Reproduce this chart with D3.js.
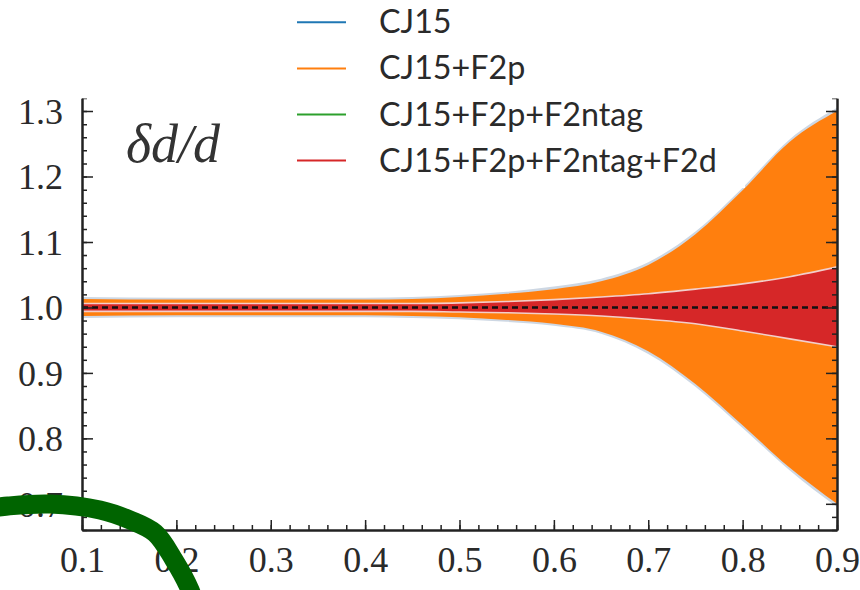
<!DOCTYPE html>
<html><head><meta charset="utf-8">
<script src="https://cdn.jsdelivr.net/npm/d3@7"></script>
<style>html,body{margin:0;padding:0;background:#fff;}svg{display:block;}</style>
</head><body>
<svg id="chart" width="860" height="590"></svg>
<script>
// ---- data ----
const xValues   = [0.1, 0.2, 0.3, 0.4, 0.45, 0.5, 0.55, 0.6, 0.65, 0.7, 0.75, 0.8, 0.85, 0.9];
const cj15Upper = [1.016,1.015,1.015,1.015,1.016,1.019,1.024,1.032,1.044,1.069,1.116,1.183,1.257,1.305];
const cj15Lower = [0.984,0.985,0.985,0.985,0.984,0.982,0.978,0.972,0.960,0.929,0.879,0.816,0.751,0.695];
const f2pUpper  = [1.013,1.012,1.012,1.012,1.013,1.016,1.021,1.028,1.040,1.065,1.112,1.179,1.253,1.300];
const f2pLower  = [0.987,0.988,0.988,0.988,0.987,0.985,0.981,0.975,0.963,0.933,0.883,0.820,0.755,0.700];
const ntagUpper = [1.006,1.006,1.006,1.006,1.006,1.007,1.009,1.012,1.016,1.021,1.028,1.036,1.047,1.062];
const ntagLower = [0.994,0.994,0.994,0.994,0.994,0.993,0.992,0.990,0.987,0.982,0.975,0.964,0.952,0.940];
const f2dUpper  = [1.006,1.006,1.006,1.006,1.006,1.007,1.009,1.012,1.016,1.021,1.028,1.036,1.047,1.062];
const f2dLower  = [0.994,0.994,0.994,0.994,0.994,0.993,0.992,0.990,0.987,0.982,0.975,0.964,0.952,0.940];
const seriesNames = ["CJ15", "CJ15+F2p", "CJ15+F2p+F2ntag", "CJ15+F2p+F2ntag+F2d"];
const xTickValues = [0.1, 0.2, 0.3, 0.4, 0.5, 0.6, 0.7, 0.8, 0.9];
const yTickValues = [0.7, 0.8, 0.9, 1.0, 1.1, 1.2, 1.3];
const yLabelText = "δd/d";

(function () {
// ---- layout ----
const svg = d3.select("#chart");
const mL = 82, mR = 837, mT = 98, mB = 530;
const x = d3.scaleLinear().domain([0.1, 0.9]).range([mL, mR]);
const y = d3.scaleLinear().domain([0.66, 1.32]).range([mB, mT]);

const defs = svg.append("defs");
defs.append("clipPath").attr("id", "crop").append("rect")
  .attr("x", 0).attr("y", 98.5).attr("width", 860).attr("height", 500);
defs.append("clipPath").attr("id", "plot").append("rect")
  .attr("x", mL).attr("y", mT).attr("width", mR - mL).attr("height", mB - mT);

const g = svg.append("g").attr("clip-path", "url(#crop)");
const pg = g.append("g").attr("clip-path", "url(#plot)");

function band(up, lo) {
  return xValues.map((v, i) => ({x: v, u: up[i], l: lo[i]}));
}
const curve = d3.curveMonotoneX;
const area = d3.area().x(d => x(d.x)).y0(d => y(d.l)).y1(d => y(d.u)).curve(curve);
const lineU = d3.line().x(d => x(d.x)).y(d => y(d.u)).curve(curve);
const lineL = d3.line().x(d => x(d.x)).y(d => y(d.l)).curve(curve);

const bands = [
  {d: band(cj15Upper, cj15Lower), fill: "#cdd7e3", edge: null},
  {d: band(f2pUpper, f2pLower), fill: "#ff7f0e", edge: null},
  {d: band(ntagUpper, ntagLower), fill: "#2ca02c", edge: null},
  {d: band(f2dUpper, f2dLower), fill: "#d62728", edge: "#f3cfcb"}
];
bands.forEach(b => {
  pg.append("path").datum(b.d).attr("d", area).attr("fill", b.fill);
  if (b.edge) {
    pg.append("path").datum(b.d).attr("d", lineU).attr("fill", "none").attr("stroke", b.edge).attr("stroke-width", 1.6);
    pg.append("path").datum(b.d).attr("d", lineL).attr("fill", "none").attr("stroke", b.edge).attr("stroke-width", 1.6);
  }
});

// dashed reference line at 1.0
pg.append("line").attr("x1", mL).attr("x2", mR).attr("y1", y(1)).attr("y2", y(1))
  .attr("stroke", "#111").attr("stroke-width", 2.4).attr("stroke-dasharray", "6,4");

// ---- axes ----
const minorX = d3.range(0.1, 0.9001, 0.02);
const minorY = d3.range(0.66, 1.3201, 0.02);
const axB = d3.axisBottom(x).tickValues(xTickValues).tickFormat(d3.format(".1f")).tickSizeInner(-10).tickSizeOuter(0).tickPadding(16);
const axL = d3.axisLeft(y).tickValues(yTickValues).tickFormat(d3.format(".1f")).tickSizeInner(-11).tickSizeOuter(0).tickPadding(19);
const axR = d3.axisRight(y).tickValues(yTickValues).tickFormat("").tickSizeInner(-11).tickSizeOuter(0);

const gB = g.append("g").attr("transform", `translate(0,${mB})`).call(axB);
const gL = g.append("g").attr("transform", `translate(${mL},0)`).call(axL);
const gR = g.append("g").attr("transform", `translate(${mR},0)`).call(axR);

// minor ticks
g.append("g").attr("transform", `translate(0,${mB})`)
  .call(d3.axisBottom(x).tickValues(minorX).tickFormat("").tickSizeInner(-5).tickSizeOuter(0));
g.append("g").attr("transform", `translate(${mL},0)`)
  .call(d3.axisLeft(y).tickValues(minorY).tickFormat("").tickSizeInner(-5).tickSizeOuter(0));
g.append("g").attr("transform", `translate(${mR},0)`)
  .call(d3.axisRight(y).tickValues(minorY).tickFormat("").tickSizeInner(-5).tickSizeOuter(0));

g.selectAll(".domain").attr("stroke", "#222").attr("stroke-width", 2);
g.selectAll(".tick line").attr("stroke", "#222").attr("stroke-width", 1.5);
g.selectAll(".tick text").attr("font-family", "'Liberation Serif', serif").attr("font-size", 36)
  .attr("fill", "#2a2a2a");
gL.selectAll(".tick text").attr("dy", "0.34em");
gB.selectAll(".tick text").attr("dy", "0.72em");

// panel label
g.append("text").attr("x", 126).attr("y", 162)
  .attr("font-family", "'Liberation Serif', serif").attr("font-style", "italic")
  .attr("font-size", 54).attr("fill", "#333").text(yLabelText);

// ---- legend ----
svg.append("rect").attr("x", 280).attr("y", 0).attr("width", 465).attr("height", 188).attr("fill", "#fff");
const legColors = ["#1f77b4", "#ff7f0e", "#2ca02c", "#d62728"];
const lg = svg.append("g");
const rows = seriesNames.map((name, i) => {
  const cy = 22.3 + i * 46.1;
  lg.append("line").attr("x1", 297).attr("x2", 346).attr("y1", cy).attr("y2", cy)
    .attr("stroke", legColors[i]).attr("stroke-width", 2);
  return lg.append("text").attr("x", 379).attr("y", cy + 11)
    .attr("font-family", "Lato, sans-serif").attr("font-size", 28).attr("fill", "#2a2a2a").text(name);
});
const w = rows[3].node().getComputedTextLength();
const fs = 28 * 338 / w;
rows.forEach(t => t.attr("font-size", fs));

// ---- annotation arc ----
const arcPts = [[-15,509],[8,506],[50,504],[100,510],[130,520],[155,533],[174,560],[190,590],[197,612]];
svg.append("path").datum(arcPts).attr("d", d3.line().curve(d3.curveCatmullRom))
  .attr("fill", "none").attr("stroke", "#006400").attr("stroke-width", 19);
})();
</script>
</body></html>
